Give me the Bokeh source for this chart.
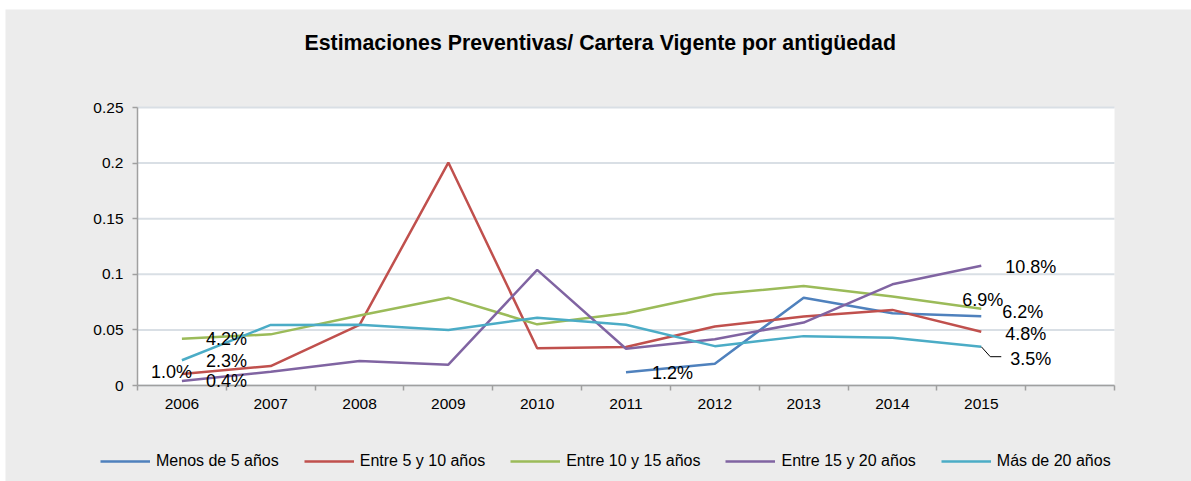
from bokeh.plotting import figure
from bokeh.models import Range1d, FixedTicker, Label, Legend, LegendItem, NumeralTickFormatter
from bokeh.embed import file_html
from bokeh.resources import INLINE

nan = float("nan")

# ---------------- data ----------------
years = ["2006", "2007", "2008", "2009", "2010", "2011", "2012", "2013", "2014", "2015"]
menos_5 = [nan, nan, nan, nan, nan, 0.012, 0.0195, 0.079, 0.065, 0.0623]
entre_5_10 = [0.0104, 0.0175, 0.0545, 0.2005, 0.0335, 0.0347, 0.053, 0.062, 0.068, 0.0484]
entre_10_15 = [0.042, 0.046, 0.063, 0.079, 0.055, 0.065, 0.082, 0.0895, 0.080, 0.0691]
entre_15_20 = [0.004, 0.0124, 0.022, 0.0187, 0.104, 0.033, 0.0416, 0.0566, 0.091, 0.1076]
mas_20 = [0.0227, 0.0545, 0.0547, 0.050, 0.061, 0.0547, 0.0354, 0.0444, 0.043, 0.0349]
series_names = ["Menos de 5 años", "Entre 5 y 10 años", "Entre 10 y 15 años",
                "Entre 15 y 20 años", "Más de 20 años"]
y_ticks = [0, 0.05, 0.1, 0.15, 0.2, 0.25]
title_text = "Estimaciones Preventivas/ Cartera Vigente por antigüedad"

# ---------------- styles / layout ----------------
colors = ["#4F81BD", "#C0504D", "#9BBB59", "#8064A2", "#4BACC6"]
FONT = "Liberation Sans"
BG = "#ECECEC"
OX, OY = 5, 9                      # white page strip left / top of the chart box
W, H = 1191 - OX, 481 - OY
# plot area, in pixels inside the figure
PX_LEFT, PX_RIGHT, PX_TOP, PX_BOTTOM = 137 - OX, 1114 - OX, 107 - OY, 385 - OY
n_slots = len(years) + 1
y_max = y_ticks[-1]
kx = (PX_RIGHT - PX_LEFT) / n_slots
ky = (PX_BOTTOM - PX_TOP) / y_max

p = figure(width=W, height=H, output_backend="svg", toolbar_location=None, title=None,
           x_range=Range1d(-PX_LEFT / kx, (W - PX_LEFT) / kx),
           y_range=Range1d(-(H - PX_BOTTOM) / ky, y_max + PX_TOP / ky),
           min_border_left=0, min_border_right=0, min_border_top=0, min_border_bottom=0)
p.styles = {"margin-left": f"{OX}px", "margin-top": f"{OY}px"}
p.border_fill_color = BG
p.background_fill_color = BG
p.outline_line_color = None

xs = [i + 0.5 for i in range(len(years))]

# white plot area
p.quad(left=[0], right=[n_slots], bottom=[0], top=[y_max], fill_color="white", line_color=None)

# gridlines at the y ticks, only across the plot area
p.xgrid.visible = False
p.ygrid.visible = False
p.segment(x0=[0] * len(y_ticks), x1=[n_slots] * len(y_ticks), y0=y_ticks, y1=y_ticks,
          line_color="#D9DFE5", line_width=2)

# axes (placed at the data origin)
p.xaxis.fixed_location = 0
p.xaxis.bounds = (0, n_slots)
p.xaxis.ticker = FixedTicker(ticks=xs, minor_ticks=list(range(n_slots + 1)))
p.xaxis.major_label_overrides = {x: yv for x, yv in zip(xs, years)}
p.xaxis.major_tick_out = 0
p.xaxis.major_tick_in = 0
p.xaxis.minor_tick_out = 5
p.xaxis.minor_tick_in = 0
p.xaxis.minor_tick_line_color = "#A0A0A0"
p.xaxis.minor_tick_line_width = 1.5
p.xaxis.major_label_standoff = 8

p.yaxis.fixed_location = 0
p.yaxis.bounds = (0, y_max)
p.yaxis.ticker = FixedTicker(ticks=y_ticks, minor_ticks=[])
p.yaxis.formatter = NumeralTickFormatter(format="0.[00]")
p.yaxis.major_tick_out = 5
p.yaxis.major_tick_in = 0
p.yaxis.major_tick_line_color = "#A0A0A0"
p.yaxis.major_tick_line_width = 1.5
p.yaxis.major_label_standoff = 9

for ax in (p.xaxis, p.yaxis):
    ax.axis_line_color = "#A0A0A0"
    ax.axis_line_width = 1.5
    ax.major_label_text_font = FONT
    ax.major_label_text_font_size = "15.5px"
    ax.major_label_text_color = "black"

# lines
all_series = [menos_5, entre_5_10, entre_10_15, entre_15_20, mas_20]
renderers = []
for vals, col in zip(all_series, colors):
    r = p.line(xs, vals, line_color=col, line_width=2.5)
    renderers.append(r)

# data labels (offsets in pixels from each point)
label_specs = [
    # (series index, year index, x_offset, y_offset, align)
    (2, 0, 24, 0, "left"),
    (4, 0, 24, -1, "left"),
    (1, 0, 10, 2, "right"),
    (3, 0, 24, 0, "left"),
    (0, 5, 26, -1, "left"),
    (3, 9, 24, -1, "left"),
    (2, 9, -19, 9, "left"),
    (0, 9, 21, 4, "left"),
    (1, 9, 24, -2, "left"),
    (4, 9, 29, -12, "left"),
]
for si, yi, dx, dy, al in label_specs:
    v = all_series[si][yi]
    p.add_layout(Label(x=xs[yi], y=v, x_offset=dx, y_offset=dy, text=f"{v * 100:.1f}%",
                       text_align=al, text_baseline="middle", text_font=FONT,
                       text_font_size="18px", text_color="black"))

# leader line for last "Más de 20 años" label
lx0, ly0 = xs[9], mas_20[9]
p.line([lx0, lx0 + 9 / kx, lx0 + 20 / kx], [ly0, ly0 - 10 / ky, ly0 - 10 / ky],
       line_color="black", line_width=1)

# title
p.add_layout(Label(x=304 - OX, y=H - (42.5 - OY), x_units="screen", y_units="screen",
                   text=title_text, text_align="left", text_baseline="middle",
                   text_font=FONT, text_font_size="21.3px", text_font_style="bold",
                   text_color="black"))

# legend
items = [LegendItem(label=nm, renderers=[r]) for nm, r in zip(series_names, renderers)]
legend = Legend(items=items, orientation="horizontal", location=(100 - OX, H - (471 - OY)))
legend.glyph_width = 50
legend.glyph_height = 20
legend.label_height = 20
legend.label_standoff = 6
legend.spacing = 25
legend.padding = 0
legend.margin = 0
legend.border_line_color = None
legend.background_fill_alpha = 0
legend.label_text_font = FONT
legend.label_text_font_size = "16px"
legend.label_text_color = "black"
p.add_layout(legend)

open("out.html", "w").write(file_html(p, INLINE))
